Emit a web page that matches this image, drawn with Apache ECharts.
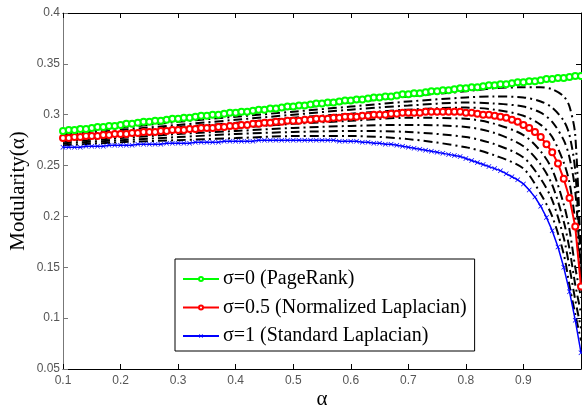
<!DOCTYPE html>
<html>
<head>
<meta charset="utf-8">
<title>Modularity vs alpha</title>
<script src="https://cdn.jsdelivr.net/npm/echarts@6/dist/echarts.min.js"></script>
<style>
  html, body { margin: 0; padding: 0; background: #fff; }
  #chart { width: 582px; height: 407px; }
</style>
</head>
<body>
<div id="chart"></div>
<script>
// alpha grid of the three marked curves (0.10 .. 1.00)
const alphas = [
  0.10, 0.11, 0.12, 0.13, 0.14, 0.15, 0.16, 0.17, 0.18, 0.19,
  0.20, 0.21, 0.22, 0.23, 0.24, 0.25, 0.26, 0.27, 0.28, 0.29,
  0.30, 0.31, 0.32, 0.33, 0.34, 0.35, 0.36, 0.37, 0.38, 0.39,
  0.40, 0.41, 0.42, 0.43, 0.44, 0.45, 0.46, 0.47, 0.48, 0.49,
  0.50, 0.51, 0.52, 0.53, 0.54, 0.55, 0.56, 0.57, 0.58, 0.59,
  0.60, 0.61, 0.62, 0.63, 0.64, 0.65, 0.66, 0.67, 0.68, 0.69,
  0.70, 0.71, 0.72, 0.73, 0.74, 0.75, 0.76, 0.77, 0.78, 0.79,
  0.80, 0.81, 0.82, 0.83, 0.84, 0.85, 0.86, 0.87, 0.88, 0.89,
  0.90, 0.91, 0.92, 0.93, 0.94, 0.95, 0.96, 0.97, 0.98, 0.99,
  1.00
];

// sigma = 0 (PageRank)
const pageRank = [
  0.284, 0.285, 0.285, 0.286, 0.286, 0.287, 0.288, 0.288, 0.289, 0.289,
  0.290, 0.291, 0.291, 0.292, 0.293, 0.293, 0.294, 0.294, 0.295, 0.296,
  0.296, 0.297, 0.297, 0.298, 0.299, 0.299, 0.300, 0.300, 0.301, 0.302,
  0.302, 0.303, 0.303, 0.304, 0.305, 0.305, 0.306, 0.306, 0.307, 0.308,
  0.308, 0.309, 0.309, 0.310, 0.311, 0.311, 0.312, 0.312, 0.313, 0.314,
  0.314, 0.315, 0.315, 0.316, 0.317, 0.317, 0.318, 0.318, 0.319, 0.320,
  0.320, 0.321, 0.321, 0.322, 0.323, 0.323, 0.324, 0.324, 0.325, 0.326,
  0.326, 0.327, 0.327, 0.328, 0.329, 0.329, 0.330, 0.330, 0.331, 0.332,
  0.332, 0.333, 0.333, 0.334, 0.335, 0.335, 0.336, 0.336, 0.337, 0.338,
  0.338
];

// sigma = 0.5 (Normalized Laplacian)
const normLap = [
  0.277, 0.277, 0.278, 0.278, 0.279, 0.279, 0.279, 0.280, 0.280, 0.281,
  0.281, 0.281, 0.282, 0.282, 0.283, 0.283, 0.283, 0.284, 0.284, 0.285,
  0.285, 0.285, 0.286, 0.286, 0.287, 0.287, 0.287, 0.288, 0.288, 0.289,
  0.289, 0.290, 0.290, 0.291, 0.291, 0.292, 0.292, 0.293, 0.293, 0.294,
  0.294, 0.294, 0.295, 0.295, 0.296, 0.296, 0.296, 0.297, 0.297, 0.298,
  0.298, 0.298, 0.299, 0.299, 0.300, 0.300, 0.300, 0.301, 0.301, 0.302,
  0.302, 0.302, 0.302, 0.303, 0.303, 0.303, 0.303, 0.303, 0.303, 0.303,
  0.302, 0.302, 0.301, 0.300, 0.300, 0.299, 0.298, 0.297, 0.295, 0.293,
  0.290, 0.287, 0.283, 0.278, 0.271, 0.263, 0.252, 0.237, 0.218, 0.190,
  0.131
];

// sigma = 1 (Standard Laplacian)
const stdLap = [
  0.268, 0.268, 0.268, 0.268, 0.269, 0.269, 0.269, 0.269, 0.270, 0.270,
  0.270, 0.270, 0.270, 0.271, 0.271, 0.271, 0.271, 0.271, 0.272, 0.272,
  0.272, 0.272, 0.272, 0.273, 0.273, 0.273, 0.273, 0.273, 0.274, 0.274,
  0.274, 0.274, 0.274, 0.274, 0.275, 0.275, 0.275, 0.275, 0.275, 0.275,
  0.275, 0.275, 0.275, 0.275, 0.275, 0.275, 0.275, 0.275, 0.274, 0.274,
  0.274, 0.274, 0.273, 0.273, 0.272, 0.272, 0.271, 0.271, 0.270, 0.269,
  0.268, 0.267, 0.266, 0.265, 0.264, 0.263, 0.262, 0.261, 0.260, 0.259,
  0.257, 0.255, 0.253, 0.251, 0.249, 0.247, 0.245, 0.242, 0.239, 0.236,
  0.232, 0.226, 0.219, 0.210, 0.199, 0.186, 0.170, 0.150, 0.126, 0.098,
  0.066
];

// intermediate sigma curves (black dash-dot), read at a coarser alpha grid
const keyAlphas = [0.1, 0.2, 0.3, 0.4, 0.5, 0.6, 0.7, 0.8, 0.85, 0.9, 0.93, 0.95, 0.97, 0.98, 0.99, 1.0];
const sigma01 = [0.283, 0.289, 0.295, 0.300, 0.306, 0.312, 0.318, 0.323, 0.326, 0.327, 0.327, 0.325, 0.318, 0.308, 0.280, 0.155];
const sigma02 = [0.281, 0.287, 0.293, 0.298, 0.303, 0.308, 0.313, 0.317, 0.318, 0.317, 0.313, 0.307, 0.294, 0.280, 0.245, 0.148];
const sigma03 = [0.280, 0.285, 0.290, 0.295, 0.300, 0.305, 0.309, 0.312, 0.311, 0.308, 0.302, 0.293, 0.275, 0.258, 0.225, 0.142];
const sigma04 = [0.278, 0.283, 0.288, 0.292, 0.297, 0.301, 0.305, 0.307, 0.305, 0.299, 0.290, 0.278, 0.253, 0.233, 0.195, 0.137];
const sigma06 = [0.276, 0.279, 0.283, 0.287, 0.291, 0.294, 0.297, 0.296, 0.291, 0.280, 0.264, 0.246, 0.212, 0.187, 0.150, 0.120];
const sigma07 = [0.274, 0.277, 0.281, 0.284, 0.287, 0.289, 0.290, 0.288, 0.282, 0.269, 0.251, 0.231, 0.195, 0.168, 0.133, 0.105];
const sigma08 = [0.272, 0.275, 0.278, 0.281, 0.283, 0.284, 0.283, 0.278, 0.271, 0.258, 0.237, 0.216, 0.179, 0.150, 0.118, 0.090];
const sigma09 = [0.270, 0.273, 0.275, 0.277, 0.279, 0.279, 0.276, 0.268, 0.260, 0.247, 0.222, 0.200, 0.163, 0.132, 0.104, 0.078];

const legendNames = ['σ=0 (PageRank)', 'σ=0.5 (Normalized Laplacian)', 'σ=1 (Standard Laplacian)'];

const pairs = (xs, ys) => xs.map((x, i) => [x, ys[i]]);

const chart = echarts.init(document.getElementById('chart'), null, { renderer: 'canvas' });

const tickLabel = { color: '#555', fontFamily: 'Liberation Sans', fontSize: 12 };
const serif = 'Liberation Serif';

// dash-dot black lines
const blackSeries = [sigma01, sigma02, sigma03, sigma04, sigma06, sigma07, sigma08, sigma09].map(ys => ({
  type: 'line',
  data: pairs(keyAlphas, ys),
  smooth: 0.3,
  showSymbol: false,
  symbol: 'none',
  silent: true,
  z: 1,
  lineStyle: { color: '#000', width: 2, type: [9, 4, 2, 4] }
}));

const option = {
  animation: false,
  backgroundColor: '#fff',
  grid: { left: 63, right: 1, top: 13, bottom: 38, containLabel: false, outerBoundsMode: 'none' },
  legend: {
    data: legendNames,
    orient: 'vertical',
    left: 175,
    top: 259,
    padding: [10, 8, 5, 7],
    itemGap: 8.5,
    itemWidth: 36,
    itemHeight: 5,
    borderColor: '#000',
    borderWidth: 1,
    backgroundColor: '#fff',
    textStyle: { fontFamily: serif, fontSize: 20, color: '#000', padding: [0, 0, 0, -1] }
  },
  xAxis: [
    {
      type: 'value', min: 0.1, max: 1.0, interval: 0.1, position: 'bottom',
      name: 'α', nameLocation: 'middle', nameGap: 20, nameMoveOverlap: false,
      nameTextStyle: { fontFamily: serif, fontSize: 21, color: '#000' },
      axisLine: { lineStyle: { color: '#000', width: 1 } },
      axisTick: { inside: true, length: 5, lineStyle: { color: '#000' } },
      axisLabel: Object.assign({ margin: 6, formatter: v => (v >= 0.999 ? '' : String(+v.toFixed(1))) }, tickLabel),
      splitLine: { show: false }
    },
    {
      type: 'value', min: 0.1, max: 1.0, interval: 0.1, position: 'top',
      axisLine: { lineStyle: { color: '#000', width: 1 } },
      axisTick: { inside: true, length: 5, lineStyle: { color: '#000' } },
      axisLabel: { show: false },
      splitLine: { show: false }
    }
  ],
  yAxis: [
    {
      type: 'value', min: 0.05, max: 0.4, interval: 0.05, position: 'left',
      name: 'Modularity(α)', nameLocation: 'middle', nameGap: 34, nameRotate: 90, nameMoveOverlap: false,
      nameTextStyle: { fontFamily: serif, fontSize: 21, color: '#000' },
      axisLine: { lineStyle: { color: '#777', width: 1 } },
      axisTick: { inside: true, length: 5, lineStyle: { color: '#777' } },
      axisLabel: Object.assign({ margin: 3, formatter: v => String(+v.toFixed(2)) }, tickLabel),
      splitLine: { show: false }
    },
    {
      type: 'value', min: 0.05, max: 0.4, interval: 0.05, position: 'right',
      axisLine: { show: true, lineStyle: { color: '#000', width: 1 } },
      axisTick: { show: true, inside: true, length: 5, lineStyle: { color: '#000' } },
      axisLabel: { show: false },
      splitLine: { show: false }
    }
  ],
  series: blackSeries.concat([
    {
      name: legendNames[2], type: 'line', data: pairs(alphas, stdLap), z: 3,
      symbol: 'path://M0,1L1,0L5,4L9,0L10,1L6,5L10,9L9,10L5,6L1,10L0,9L4,5Z',
      symbolSize: 5,
      itemStyle: { color: '#0000ff' },
      lineStyle: { color: '#0000ff', width: 1.5 }
    },
    {
      name: legendNames[1], type: 'line', data: pairs(alphas, normLap), z: 4,
      symbol: 'emptyCircle', symbolSize: 6,
      itemStyle: { color: '#ff0000', borderWidth: 1.3 },
      lineStyle: { color: '#ff0000', width: 2 }
    },
    {
      name: legendNames[0], type: 'line', data: pairs(alphas, pageRank), z: 5,
      symbol: 'emptyCircle', symbolSize: 6,
      itemStyle: { color: '#00ff00', borderWidth: 1.3 },
      lineStyle: { color: '#00ff00', width: 2 }
    }
  ])
};

chart.setOption(option);
</script>
</body>
</html>
